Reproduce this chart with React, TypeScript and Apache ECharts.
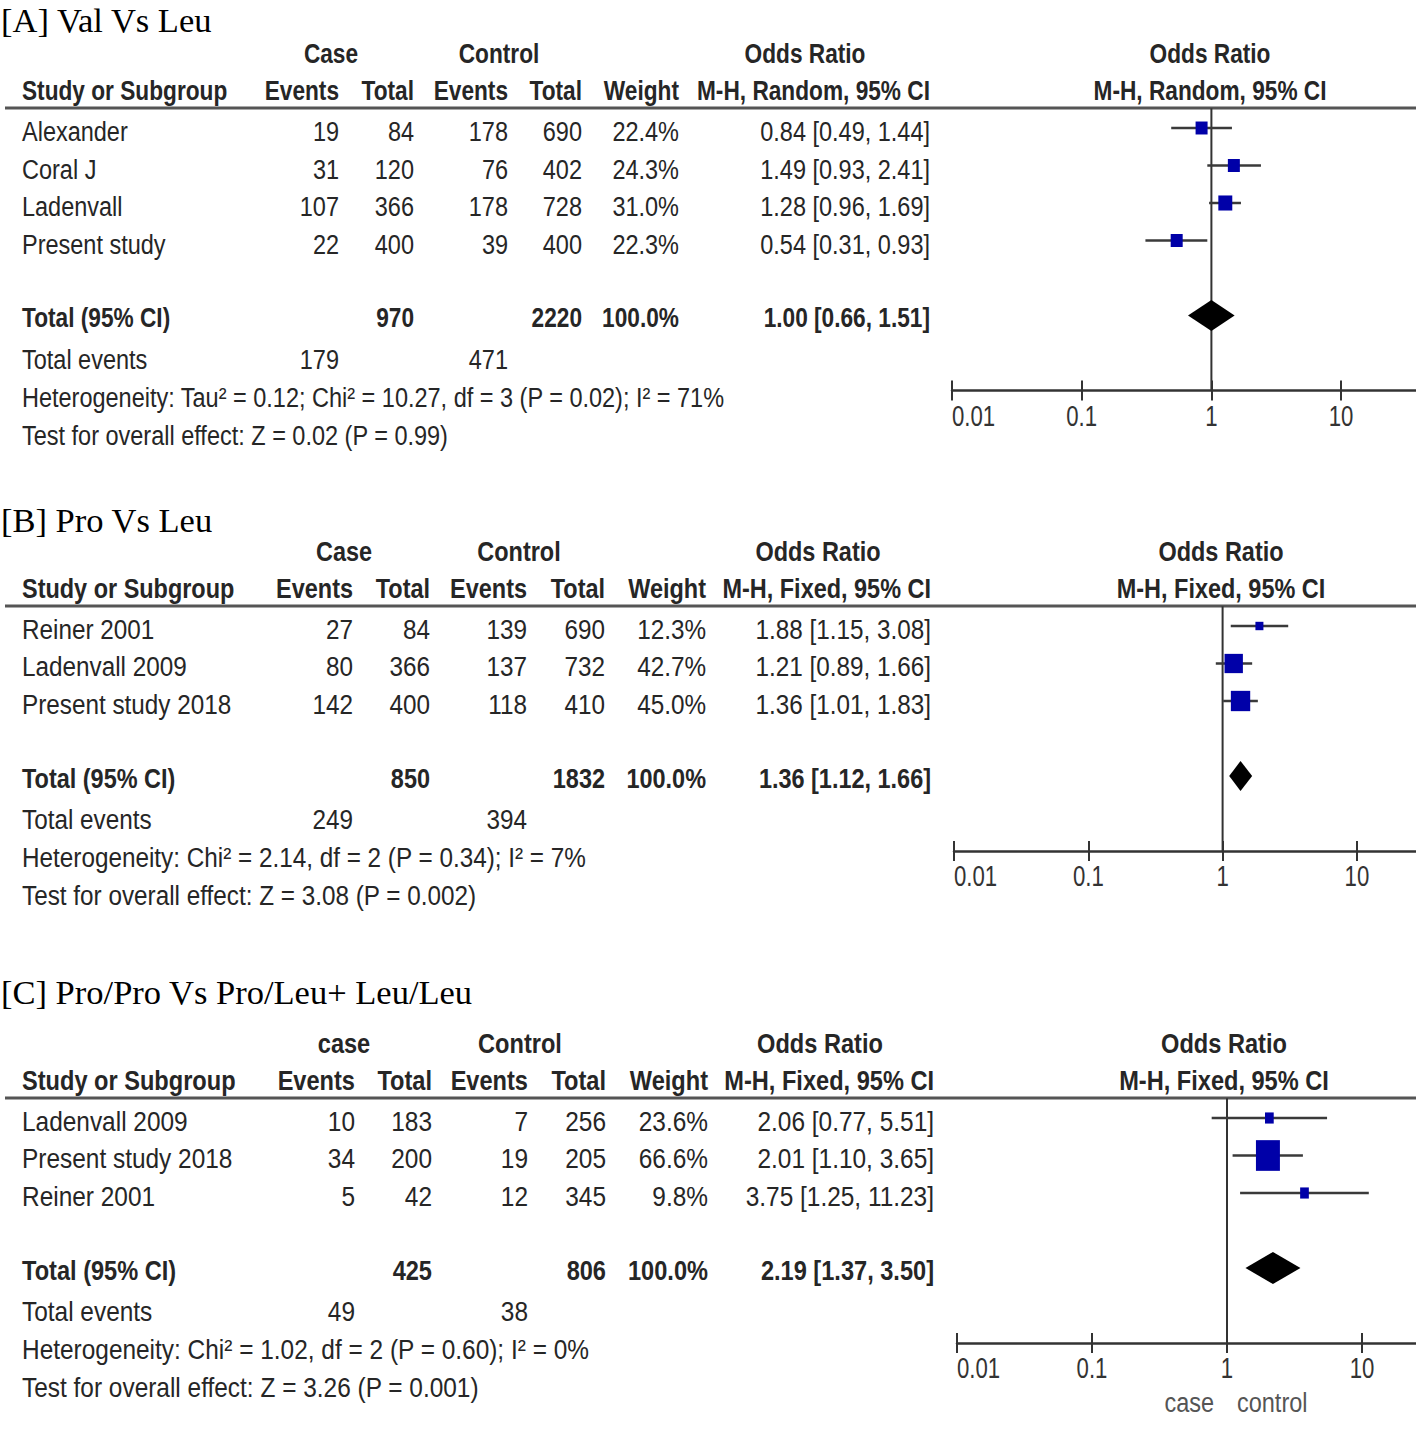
import React, { useEffect, useRef } from "react";
import * as echarts from "echarts";

const FONT = "'Liberation Sans', Arial, sans-serif";
const SERIF = "'Liberation Serif', 'Times New Roman', serif";

// ---------- Panel A ----------
const aTitle = "[A] Val Vs Leu";
const aGroup = "Case";
const aMethod = "M-H, Random, 95% CI";
const aStudies = ["Alexander", "Coral J", "Ladenvall", "Present study"];
const aCaseEvents = [19, 31, 107, 22];
const aCaseTotal = [84, 120, 366, 400];
const aCtrlEvents = [178, 76, 178, 39];
const aCtrlTotal = [690, 402, 728, 400];
const aWeight = [22.4, 24.3, 31.0, 22.3];
const aOR = [0.84, 1.49, 1.28, 0.54];
const aLo = [0.49, 0.93, 0.96, 0.31];
const aHi = [1.44, 2.41, 1.69, 0.93];
const aTotals = [970, 2220];
const aTotalEvents = [179, 471];
const aPooled = [1.0, 0.66, 1.51];
const aHet = "Heterogeneity: Tau² = 0.12; Chi² = 10.27, df = 3 (P = 0.02); I² = 71%";
const aTest = "Test for overall effect: Z = 0.02 (P = 0.99)";

// ---------- Panel B ----------
const bTitle = "[B] Pro Vs Leu";
const bGroup = "Case";
const bMethod = "M-H, Fixed, 95% CI";
const bStudies = ["Reiner 2001", "Ladenvall 2009", "Present study 2018"];
const bCaseEvents = [27, 80, 142];
const bCaseTotal = [84, 366, 400];
const bCtrlEvents = [139, 137, 118];
const bCtrlTotal = [690, 732, 410];
const bWeight = [12.3, 42.7, 45.0];
const bOR = [1.88, 1.21, 1.36];
const bLo = [1.15, 0.89, 1.01];
const bHi = [3.08, 1.66, 1.83];
const bTotals = [850, 1832];
const bTotalEvents = [249, 394];
const bPooled = [1.36, 1.12, 1.66];
const bHet = "Heterogeneity: Chi² = 2.14, df = 2 (P = 0.34); I² = 7%";
const bTest = "Test for overall effect: Z = 3.08 (P = 0.002)";

// ---------- Panel C ----------
const cTitle = "[C] Pro/Pro Vs Pro/Leu+ Leu/Leu";
const cGroup = "case";
const cMethod = "M-H, Fixed, 95% CI";
const cStudies = ["Ladenvall 2009", "Present study 2018", "Reiner 2001"];
const cCaseEvents = [10, 34, 5];
const cCaseTotal = [183, 200, 42];
const cCtrlEvents = [7, 19, 12];
const cCtrlTotal = [256, 205, 345];
const cWeight = [23.6, 66.6, 9.8];
const cOR = [2.06, 2.01, 3.75];
const cLo = [0.77, 1.1, 1.25];
const cHi = [5.51, 3.65, 11.23];
const cTotals = [425, 806];
const cTotalEvents = [49, 38];
const cPooled = [2.19, 1.37, 3.5];
const cHet = "Heterogeneity: Chi² = 1.02, df = 2 (P = 0.60); I² = 0%";
const cTest = "Test for overall effect: Z = 3.26 (P = 0.001)";

const xTickValues = [0.01, 0.1, 1, 10];
const xTickLabels = ["0.01", "0.1", "1", "10"];
const favourLabels = ["case", "control"];

type Panel = {
  title: string; group: string; method: string; studies: string[];
  caseEvents: number[]; caseTotal: number[]; ctrlEvents: number[]; ctrlTotal: number[];
  weight: number[]; or: number[]; lo: number[]; hi: number[];
  totals: number[]; totalEvents: number[]; pooled: number[]; het: string; test: string;
};

type Layout = {
  rowY0: number; titleY: number; cols: number[]; groupX: number[];
  plotLeft: number; decade: number; plotHeaderX: number; textScale: number;
  mk: { k: number; min: number; aspect: number }; diamondH: number; footer: boolean;
};

const panels: Panel[] = [
  { title: aTitle, group: aGroup, method: aMethod, studies: aStudies, caseEvents: aCaseEvents, caseTotal: aCaseTotal, ctrlEvents: aCtrlEvents, ctrlTotal: aCtrlTotal, weight: aWeight, or: aOR, lo: aLo, hi: aHi, totals: aTotals, totalEvents: aTotalEvents, pooled: aPooled, het: aHet, test: aTest },
  { title: bTitle, group: bGroup, method: bMethod, studies: bStudies, caseEvents: bCaseEvents, caseTotal: bCaseTotal, ctrlEvents: bCtrlEvents, ctrlTotal: bCtrlTotal, weight: bWeight, or: bOR, lo: bLo, hi: bHi, totals: bTotals, totalEvents: bTotalEvents, pooled: bPooled, het: bHet, test: bTest },
  { title: cTitle, group: cGroup, method: cMethod, studies: cStudies, caseEvents: cCaseEvents, caseTotal: cCaseTotal, ctrlEvents: cCtrlEvents, ctrlTotal: cCtrlTotal, weight: cWeight, or: cOR, lo: cLo, hi: cHi, totals: cTotals, totalEvents: cTotalEvents, pooled: cPooled, het: cHet, test: cTest },
];

const layouts: Layout[] = [
  { rowY0: 128, titleY: 20, cols: [339, 414, 508, 582, 679, 930], groupX: [331, 499, 805], plotLeft: 952, decade: 129.7, plotHeaderX: 1210, textScale: 1, mk: { k: 0.45, min: 12, aspect: 1.08 }, diamondH: 15.5, footer: false },
  { rowY0: 626, titleY: 520, cols: [353, 430, 527, 605, 706, 931], groupX: [344, 519, 818], plotLeft: 954, decade: 134.3, plotHeaderX: 1221, textScale: 1.035, mk: { k: 0.43, min: 8, aspect: 1.05 }, diamondH: 15, footer: false },
  { rowY0: 1118, titleY: 992, cols: [355, 432, 528, 606, 708, 934], groupX: [344, 520, 820], plotLeft: 957, decade: 135, plotHeaderX: 1224, textScale: 1.04, mk: { k: 0.36, min: 8.7, aspect: 1.28 }, diamondH: 16, footer: true },
];

const RH = 37.5;
const TEXT = "#262626";
const fmtCI = (o: number, l: number, h: number) => `${o.toFixed(2)} [${l.toFixed(2)}, ${h.toFixed(2)}]`;

function txt(text: string, x: number, y: number, align: string, opts: any = {}) {
  const size = opts.size ?? 27;
  const family = opts.family ?? FONT;
  const weight = opts.bold ? "bold " : "";
  const sx = (opts.scaleX ?? (opts.bold ? 0.84 : 0.87)) * (opts.ts ?? 1);
  return {
    type: "text",
    x, y, scaleX: sx, scaleY: 1, silent: true,
    style: {
      text,
      font: `${weight}${size}px ${family}`,
      fill: opts.fill ?? TEXT,
      align, verticalAlign: "middle",
      textAlign: align, textVerticalAlign: "middle",
    },
  };
}

function build() {
  const grid: any[] = [];
  const xAxis: any[] = [];
  const yAxis: any[] = [];
  const series: any[] = [];
  const graphic: any[] = [];

  panels.forEach((p, i) => {
    const L = layouts[i];
    const n = p.studies.length;
    const yMin = -0.53;
    const yMax = n + 3;
    grid.push({
      left: L.plotLeft, width: 4 * L.decade,
      top: L.rowY0 + yMin * RH, height: (yMax - yMin) * RH,
      containLabel: false, outerBoundsMode: "none",
    });
    const common = {
      type: "log", logBase: 10, gridIndex: i, min: 0.01, max: 100, position: "bottom", offset: 0,
      splitLine: { show: false }, minorTick: { show: false }, minorSplitLine: { show: false },
    };
    xAxis.push({
      ...common,
      axisLine: { show: true, onZero: false, lineStyle: { color: "#333", width: 2.5 } },
      axisTick: { show: true, length: 10, lineStyle: { color: "#333", width: 2 } },
      axisLabel: { show: false },
    });
    xAxis.push({
      ...common,
      axisLine: { show: false, onZero: false },
      axisTick: { show: true, inside: true, length: 10, lineStyle: { color: "#333", width: 2 } },
      axisLabel: { show: false },
    });
    yAxis.push({ type: "value", gridIndex: i, min: yMin, max: yMax, inverse: true, show: false });

    const xIdx = 2 * i;
    // reference line at OR = 1
    series.push({
      type: "line", xAxisIndex: xIdx, yAxisIndex: i, silent: true, symbol: "none", z: 1,
      data: [[1, yMin], [1, yMax]],
      lineStyle: { color: "#333", width: 2 },
    });
    // tick labels (condensed), placed through the axis scale
    series.push({
      type: "custom", xAxisIndex: xIdx, yAxisIndex: i, z: 3, silent: true, clip: false,
      encode: { x: 0, y: 1 },
      data: xTickValues.map((v, k) => [v, yMax, k]),
      renderItem: (_params: any, api: any) => {
        const k = api.value(2);
        const pt = api.coord([api.value(0), api.value(1)]);
        const align = k === 0 ? "left" : "center";
        return {
          type: "text", x: pt[0], y: pt[1] + 25, scaleX: 0.74,
          style: {
            text: xTickLabels[k], font: `30px ${FONT}`, fill: "#333",
            align, verticalAlign: "middle", textAlign: align, textVerticalAlign: "middle",
          },
        };
      },
    });
    // study estimates
    const mk = L.mk;
    series.push({
      type: "custom", xAxisIndex: xIdx, yAxisIndex: i, z: 3, silent: true,
      encode: { x: [0, 1, 2], y: 3 },
      data: p.or.map((v, k) => [v, p.lo[k], p.hi[k], k, p.weight[k]]),
      renderItem: (_params: any, api: any) => {
        const row = api.value(3);
        const c = api.coord([api.value(0), row]);
        const l = api.coord([api.value(1), row]);
        const h = api.coord([api.value(2), row]);
        const side = Math.max(mk.min, mk.k * api.value(4));
        const sh = side * mk.aspect;
        return {
          type: "group",
          children: [
            { type: "line", shape: { x1: l[0], y1: l[1], x2: h[0], y2: h[1] }, style: { stroke: "#3a3a3a", lineWidth: 2.5 } },
            { type: "rect", shape: { x: c[0] - side / 2, y: c[1] - sh / 2, width: side, height: sh }, style: { fill: "#0000a8" } },
          ],
        };
      },
    });
    // pooled diamond
    const H = L.diamondH;
    series.push({
      type: "custom", xAxisIndex: xIdx, yAxisIndex: i, z: 3, silent: true,
      encode: { x: [0, 1, 2], y: 3 },
      data: [[p.pooled[0], p.pooled[1], p.pooled[2], n + 1]],
      renderItem: (_params: any, api: any) => {
        const row = api.value(3);
        const c = api.coord([api.value(0), row]);
        const l = api.coord([api.value(1), row]);
        const r = api.coord([api.value(2), row]);
        return {
          type: "polygon",
          shape: { points: [[l[0], c[1]], [c[0], c[1] - H], [r[0], c[1]], [c[0], c[1] + H]] },
          style: { fill: "#000" },
        };
      },
    });

    // ---- table texts ----
    const C = L.cols;
    const ts = L.textScale;
    graphic.push(txt(p.title, 1, L.titleY, "left", { size: 34.5, family: SERIF, fill: "#000", scaleX: 1 }));
    const h1 = L.rowY0 - 75;
    const h2 = L.rowY0 - 38;
    graphic.push(txt(p.group, L.groupX[0], h1, "center", { bold: true, ts }));
    graphic.push(txt("Control", L.groupX[1], h1, "center", { bold: true, ts }));
    graphic.push(txt("Odds Ratio", L.groupX[2], h1, "center", { bold: true, ts }));
    graphic.push(txt("Odds Ratio", L.plotHeaderX, h1, "center", { bold: true, ts }));
    graphic.push(txt("Study or Subgroup", 22, h2, "left", { bold: true, ts }));
    graphic.push(txt("Events", C[0], h2, "right", { bold: true, ts }));
    graphic.push(txt("Total", C[1], h2, "right", { bold: true, ts }));
    graphic.push(txt("Events", C[2], h2, "right", { bold: true, ts }));
    graphic.push(txt("Total", C[3], h2, "right", { bold: true, ts }));
    graphic.push(txt("Weight", C[4], h2, "right", { bold: true, ts }));
    graphic.push(txt(p.method, C[5], h2, "right", { bold: true, ts }));
    graphic.push(txt(p.method, L.plotHeaderX, h2, "center", { bold: true, ts }));
    graphic.push({
      type: "line", silent: true,
      shape: { x1: 5, y1: L.rowY0 - 20, x2: 1416, y2: L.rowY0 - 20 },
      style: { stroke: "#555", lineWidth: 3 },
    });
    p.studies.forEach((s, k) => {
      const y = L.rowY0 + k * RH + 3.5;
      graphic.push(txt(s, 22, y, "left", { ts }));
      graphic.push(txt(String(p.caseEvents[k]), C[0], y, "right", { ts }));
      graphic.push(txt(String(p.caseTotal[k]), C[1], y, "right", { ts }));
      graphic.push(txt(String(p.ctrlEvents[k]), C[2], y, "right", { ts }));
      graphic.push(txt(String(p.ctrlTotal[k]), C[3], y, "right", { ts }));
      graphic.push(txt(`${p.weight[k].toFixed(1)}%`, C[4], y, "right", { ts }));
      graphic.push(txt(fmtCI(p.or[k], p.lo[k], p.hi[k]), C[5], y, "right", { ts }));
    });
    const ty = L.rowY0 + (n + 1) * RH + 2;
    graphic.push(txt("Total (95% CI)", 22, ty, "left", { bold: true, ts }));
    graphic.push(txt(String(p.totals[0]), C[1], ty, "right", { bold: true, ts }));
    graphic.push(txt(String(p.totals[1]), C[3], ty, "right", { bold: true, ts }));
    graphic.push(txt("100.0%", C[4], ty, "right", { bold: true, ts }));
    graphic.push(txt(fmtCI(p.pooled[0], p.pooled[1], p.pooled[2]), C[5], ty, "right", { bold: true, ts }));
    graphic.push(txt("Total events", 22, ty + 42, "left", { ts }));
    graphic.push(txt(String(p.totalEvents[0]), C[0], ty + 42, "right", { ts }));
    graphic.push(txt(String(p.totalEvents[1]), C[2], ty + 42, "right", { ts }));
    graphic.push(txt(p.het, 22, ty + 80, "left", { ts }));
    graphic.push(txt(p.test, 22, ty + 118, "left", { ts }));
    if (L.footer) {
      const oneX = L.plotLeft + 2 * L.decade;
      graphic.push(txt(favourLabels[0], oneX - 13, ty + 132, "right", { fill: "#555" }));
      graphic.push(txt(favourLabels[1], oneX + 10, ty + 132, "left", { fill: "#555" }));
    }
  });

  return {
    animation: false,
    backgroundColor: "#ffffff",
    grid, xAxis, yAxis, series, graphic,
  };
}

export default function App() {
  const ref = useRef<HTMLDivElement>(null);
  useEffect(() => {
    if (!ref.current) return;
    const chart = echarts.init(ref.current, undefined, { renderer: "svg" });
    chart.setOption(build() as any);
    return () => chart.dispose();
  }, []);
  return (
    <div
      ref={ref}
      style={{ position: "absolute", left: 0, top: 0, width: 1416, height: 1434, background: "#fff" }}
    />
  );
}
